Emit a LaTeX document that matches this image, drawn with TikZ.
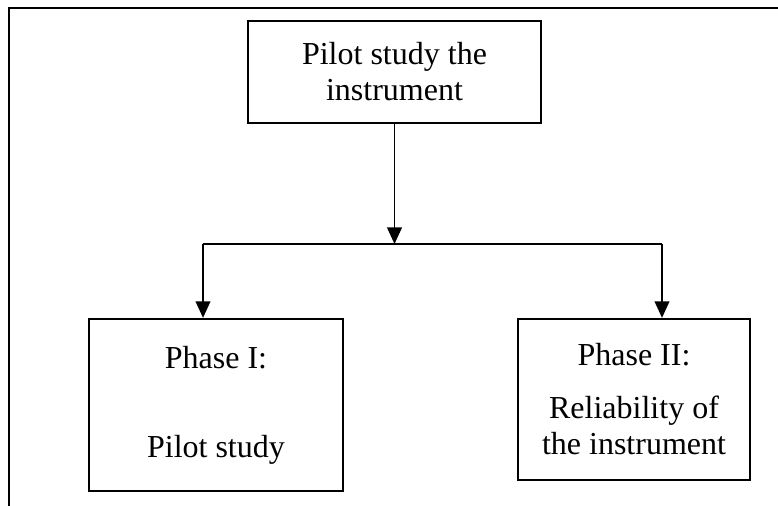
\documentclass[tikz,border=0pt]{standalone}
\usepackage{fontspec}
\setmainfont{Liberation Serif}
\usetikzlibrary{arrows.meta}

\begin{document}
\begin{tikzpicture}[x = 0.375pt, y = -0.375pt, line width = 0.7pt,
    box/.style = {rectangle, draw, line width = 0.85pt, inner sep = 0pt, align = center,
        font = \fontsize{12}{13.5}\selectfont},
    arr/.style = {-{Triangle[width = 5.5pt, length = 6.2pt]}}]
\useasboundingbox (0,0) rectangle (778,506);
\draw[line width = 1.1pt] (9,506) -- (9,8) -- (778,8);
\draw (394.5,72) node[box, minimum width = 293*0.375pt, minimum height = 102*0.375pt](a1){Pilot study the\\instrument}
    (216,405) node[box, minimum width = 254*0.375pt, minimum height = 172*0.375pt](a2){Phase I:\\[19.9pt]Pilot study}
    (634,399.5) node[box, minimum width = 232*0.375pt, minimum height = 161*0.375pt](a3){Phase II:\\[6.4pt]Reliability of\\the instrument};
\coordinate (j) at (394.5,244);
\coordinate (jl) at (203,244);
\coordinate (jr) at (662,244);
    \draw [arr] (a1) -- (j);
    \draw [-] (jl) -- (jr);
    \draw [arr] (jl) -- (jl |- a2.north);
    \draw [arr] (jr) -- (jr |- a3.north);
\end{tikzpicture}
\end{document}
